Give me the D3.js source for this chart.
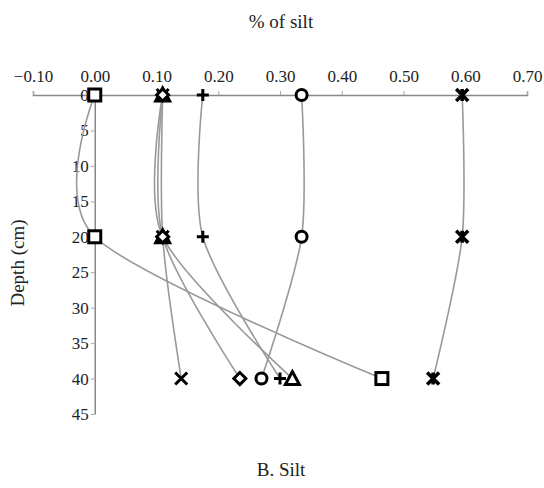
<!DOCTYPE html>
<html>
<head>
<meta charset="utf-8">
<script src="https://cdn.jsdelivr.net/npm/d3@7"></script>
<style>
  body { margin: 0; background: #fff; }
  svg text { font-family: "Liberation Serif", "Times New Roman", "DejaVu Serif", serif !important; }
</style>
</head>
<body>
<svg id="chart" width="544" height="488"></svg>
<script>
// Sampling depths (cm) and silt fraction per profile
const depths = [0, 20, 40];
const siltSquare   = [0.00, 0.00, 0.465];
const siltTriangle = [0.11, 0.11, 0.32];
const siltCross    = [0.11, 0.11, 0.14];
const siltDiamond  = [0.11, 0.11, 0.235];
const siltCircle   = [0.335, 0.335, 0.27];
const siltPlus     = [0.175, 0.175, 0.30];
const siltStar     = [0.595, 0.595, 0.548];

const xTicks = [-0.10, 0.00, 0.10, 0.20, 0.30, 0.40, 0.50, 0.60, 0.70];
const yTicks = [0, 5, 10, 15, 20, 25, 30, 35, 40, 45];

const series = [
  { name: "square",   values: siltSquare },
  { name: "triangle", values: siltTriangle },
  { name: "cross",    values: siltCross },
  { name: "diamond",  values: siltDiamond },
  { name: "circle",   values: siltCircle },
  { name: "plus",     values: siltPlus },
  { name: "star",     values: siltStar }
];

const svg = d3.select("#chart");
const x = d3.scaleLinear().domain([-0.10, 0.70]).range([33, 527]);
const y = d3.scaleLinear().domain([0, 45]).range([95, 414]);

// Top x axis
const xAxis = svg.append("g").attr("transform", `translate(0,${y(0)})`)
  .call(d3.axisTop(x).tickValues(xTicks).tickFormat(d3.format(".2f")).tickSize(4).tickPadding(9));
xAxis.attr("font-family", null);
xAxis.select(".domain").attr("stroke", "#888").attr("stroke-width", 1.5);
xAxis.selectAll(".tick line").attr("stroke", "#aaa");
xAxis.selectAll(".tick text").style("font-size", "17px").style("fill", "#222");

// Left y axis placed at x = 0
const yAxis = svg.append("g").attr("transform", `translate(${x(0)},0)`)
  .call(d3.axisLeft(y).tickValues(yTicks).tickSize(4).tickSizeOuter(0).tickPadding(2));
yAxis.attr("font-family", null);
yAxis.select(".domain").attr("stroke", "#888").attr("stroke-width", 1.5);
yAxis.selectAll(".tick line").attr("stroke", "#aaa");
yAxis.selectAll(".tick text").style("font-size", "17px").style("fill", "#222");

// Smoothed profile lines
const line = d3.line()
  .x(d => x(d[0]))
  .y(d => y(d[1]))
  .curve(d3.curveCardinal.tension(0.15));

svg.append("g").selectAll("path")
  .data(series)
  .join("path")
  .attr("d", s => line(s.values.map((v, i) => [v, depths[i]])))
  .attr("fill", "none")
  .attr("stroke", "#999")
  .attr("stroke-width", 1.6);

// Marker shapes
function marker(g, type) {
  const r = 6;
  const sw = 3;
  if (type === "square") {
    g.append("rect").attr("x", -r).attr("y", -r).attr("width", 2 * r).attr("height", 2 * r)
      .attr("fill", "#fff").attr("stroke", "#000").attr("stroke-width", sw);
  } else if (type === "circle") {
    g.append("circle").attr("r", r - 0.5)
      .attr("fill", "#fff").attr("stroke", "#000").attr("stroke-width", sw);
  } else if (type === "triangle") {
    g.append("path").attr("d", `M0,${-r - 1}L${r + 1},${r}L${-r - 1},${r}Z`)
      .attr("fill", "#fff").attr("stroke", "#000").attr("stroke-width", sw).attr("stroke-linejoin", "miter");
  } else if (type === "diamond") {
    g.append("path").attr("d", `M0,${-r}L${r},0L0,${r}L${-r},0Z`)
      .attr("fill", "#fff").attr("stroke", "#000").attr("stroke-width", sw);
  } else if (type === "cross") {
    g.append("path").attr("d", `M${-r},${-r}L${r},${r}M${r},${-r}L${-r},${r}`)
      .attr("stroke", "#000").attr("stroke-width", sw);
  } else if (type === "plus") {
    g.append("path").attr("d", `M${-r},0L${r},0M0,${-r}L0,${r}`)
      .attr("stroke", "#000").attr("stroke-width", sw);
  } else if (type === "star") {
    g.append("path").attr("d", `M${-r},${-r}L${r},${r}M${r},${-r}L${-r},${r}M0,${-r}L0,${r}`)
      .attr("stroke", "#000").attr("stroke-width", sw + 0.5);
  }
}

series.forEach(s => {
  s.values.forEach((v, i) => {
    const g = svg.append("g").attr("transform", `translate(${x(v)},${y(depths[i])})`);
    marker(g, s.name);
  });
});

// Titles
svg.append("text").attr("x", 281).attr("y", 28).attr("text-anchor", "middle")
  .style("font-size", "19px").style("fill", "#222").text("% of silt");
svg.append("text").attr("transform", `translate(24,263) rotate(-90)`)
  .attr("text-anchor", "middle")
  .style("font-size", "19px").style("fill", "#222").text("Depth (cm)");
svg.append("text").attr("x", 281).attr("y", 476).attr("text-anchor", "middle")
  .style("font-size", "19px").style("fill", "#222").text("B. Silt");
</script>
</body>
</html>
